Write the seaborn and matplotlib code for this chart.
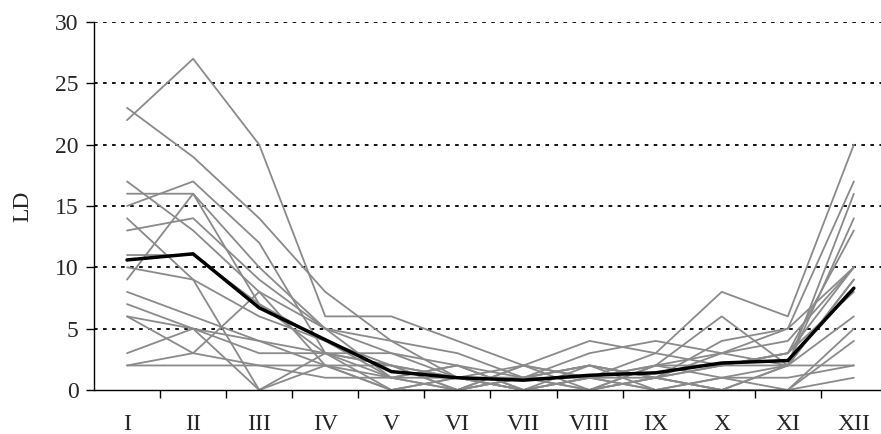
import numpy as np
import pandas as pd
import matplotlib
matplotlib.use('Agg')
from matplotlib import pyplot as plt
import seaborn as sns

months = ['I', 'II', 'III', 'IV', 'V', 'VI', 'VII', 'VIII', 'IX', 'X', 'XI', 'XII']

# LD values per station (gray lines)
s01 = [22, 27, 20, 6, 6, 4, 2, 1, 3, 8, 6, 20]
s02 = [23, 19, 14, 8, 4, 3, 1, 0, 2, 3, 5, 17]
s03 = [17, 13, 8, 5, 3, 2, 1, 2, 1, 0, 2, 16]
s04 = [16, 16, 10, 5, 4, 1, 0, 1, 2, 6, 2, 14]
s05 = [15, 17, 12, 3, 3, 1, 2, 4, 3, 2, 3, 13]
s06 = [14, 9, 6, 4, 2, 0, 1, 3, 4, 3, 4, 10]
s07 = [13, 14, 9, 5, 1, 0, 2, 0, 1, 4, 5, 10]
s08 = [11, 11, 7, 3, 0, 1, 0, 1, 0, 1, 2, 9]
s09 = [9, 16, 7, 4, 1, 2, 0, 1, 1, 2, 3, 8]
s10 = [8, 6, 4, 3, 2, 1, 1, 2, 1, 3, 2, 6]
s11 = [7, 5, 3, 3, 2, 0, 1, 1, 2, 1, 0, 5]
s12 = [6, 5, 0, 2, 0, 1, 0, 0, 1, 0, 0, 4]
s13 = [6, 3, 2, 1, 1, 0, 1, 2, 0, 1, 1, 2]
s14 = [3, 5, 4, 2, 1, 2, 0, 0, 1, 0, 0, 1]
s15 = [2, 2, 2, 2, 2, 1, 1, 0, 2, 2, 2, 2]
s16 = [2, 3, 8, 2, 0, 0, 2, 1, 0, 0, 2, 9]
s17 = [10, 9, 0, 3, 1, 1, 0, 2, 1, 2, 3, 10]

# mean line (black)
mean_ld = [10.6, 11.1, 6.7, 4.1, 1.5, 1.0, 0.8, 1.2, 1.4, 2.2, 2.4, 8.3]

stations = [s01, s02, s03, s04, s05, s06, s07, s08, s09,
            s10, s11, s12, s13, s14, s15, s16, s17]

rows = []
for i, vals in enumerate(stations):
    for m, v in enumerate(vals):
        rows.append({'station': i, 'month': m, 'LD': v})
df = pd.DataFrame(rows)
df_mean = pd.DataFrame({'month': range(len(months)), 'LD': mean_ld})

sns.set_style('white')
plt.rcParams['font.family'] = ['Liberation Serif', 'DejaVu Serif']

fig = plt.figure(figsize=(8.81, 4.34), dpi=100)
ax = fig.add_axes([0.1067, 0.1014, 0.900, 0.848])

for y in range(5, 31, 5):
    ax.axhline(y, color='black', linestyle=(0, (2, 3)), linewidth=1.3, zorder=0)

sns.lineplot(data=df, x='month', y='LD', units='station', estimator=None,
             color='#8a8a8a', linewidth=1.3, ax=ax)
sns.lineplot(data=df_mean, x='month', y='LD', color='black', linewidth=2.5, ax=ax)

ax.set_xlim(-0.5, 11.5)
ax.set_ylim(0, 30)
ax.set_yticks(range(0, 31, 5))
ax.set_xticks(range(len(months)))
ax.set_xticklabels(months)
ax.set_xticks(np.arange(0.5, 11, 1), minor=True)
ax.tick_params(axis='x', which='major', length=0, pad=17, labelsize=17)
ax.tick_params(axis='x', which='minor', length=6, width=1, direction='out', color='black', bottom=True)
ax.tick_params(axis='y', length=6, width=1, direction='out', color='black', labelsize=17, left=True, pad=5)
ax.set_xlabel('')
ax.set_ylabel('LD', fontsize=17, labelpad=16)

sns.despine(ax=ax, top=True, right=True)
ax.spines['left'].set_color('black')
ax.spines['bottom'].set_color('black')
ax.spines['left'].set_linewidth(1)
ax.spines['bottom'].set_linewidth(1)
ax.grid(False)

fig.savefig('out.png', dpi=100)
